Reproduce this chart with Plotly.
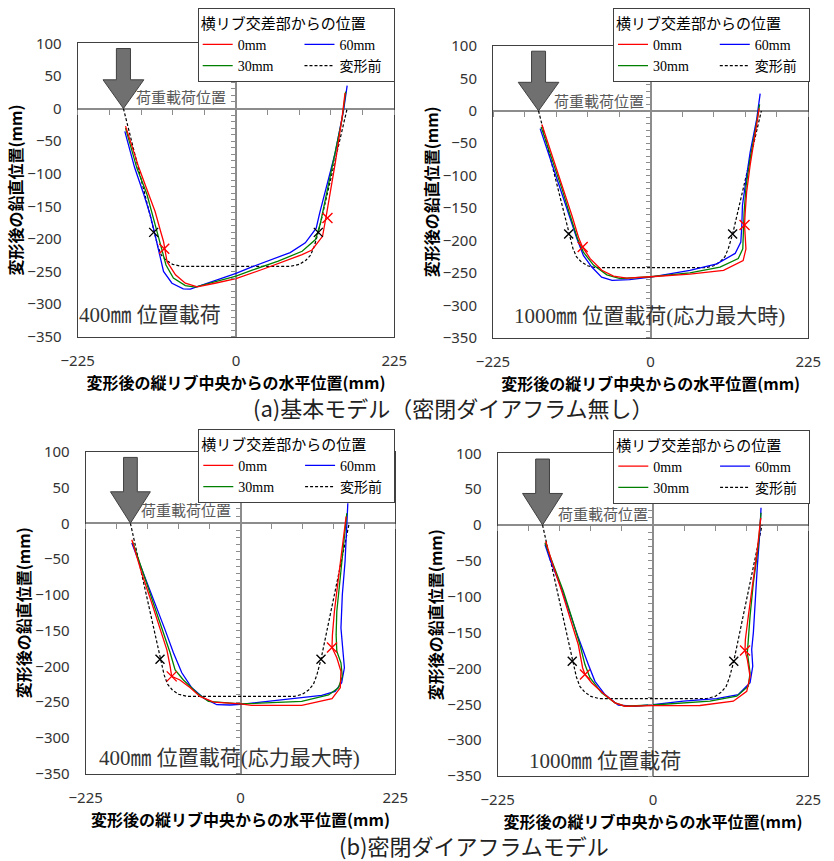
import plotly.graph_objects as go

W, H = 834, 861

# ---------------- data ----------------
SERIES_NAMES = ["0mm", "30mm", "60mm", "変形前"]
SERIES_COLORS = ["#ff0000", "#008000", "#0000ff", "#000000"]
X_TICKS = [-225, 0, 225]
Y_TICKS = list(range(-350, 101, 50))
LEGEND_TITLE = "横リブ交差部からの位置"
X_TITLE = "変形後の縦リブ中央からの水平位置(mm)"
Y_TITLE = "変形後の鉛直位置(mm)"
LOAD_TEXT = "荷重載荷位置"
PANEL_LABELS = ["400㎜ 位置載荷", "1000㎜ 位置載荷(応力最大時)",
                "400㎜ 位置載荷(応力最大時)", "1000㎜ 位置載荷"]
CAPTIONS = ["(a)基本モデル（密閉ダイアフラム無し）", "(b)密閉ダイアフラムモデル"]

# undeformed shape (common to all panels)
BEFORE_X = [-160, -117, -111, -106, -99, -90, -78, 78, 90, 99, 106, 111, 117, 158]
BEFORE_Y = [0, -190, -212, -225, -233, -239, -242, -242, -239, -233, -225, -212, -190, 0]
BEFORE_MARK_X = [-117, 117]
BEFORE_MARK_Y = [-190, -190]
LOAD_X, LOAD_Y = -160, 0

# panel (a) 400mm
A400_0_X = [-157, -138, -124, -115, -107, -103, -98, -86, -72, -55, -30, 0, 42, 94, 108, 123, 129, 135, 141, 151, 155]
A400_0_Y = [-27, -91, -132, -158, -189, -204, -235, -255, -268, -273.5, -268, -261, -245, -224, -217, -196, -160, -125, -84, -12, 24]
A400_30_X = [-157, -141, -126.5, -118.5, -111.5, -105, -99.5, -89, -72, -58, -30, 0, 23, 60, 94, 113, 120, 127, 136, 150.6, 156]
A400_30_Y = [-30, -91, -132, -163, -194, -219, -240, -260, -271.5, -274, -266, -257, -248, -234, -219, -201, -176, -140, -94, -17, 26]
A400_60_X = [-158, -144, -131, -122, -115, -109, -103, -91, -75, -65, -40, -15, 0, 20, 46, 77, 98.5, 114, 119, 127, 141, 153, 158]
A400_60_Y = [-35, -91, -132, -163, -194, -224, -250, -268, -276.5, -277, -268, -259, -253, -244, -233, -221, -206, -183.5, -160, -125, -68, -2, 35]
A400_MARK_X = [-102, 130]
A400_MARK_Y = [-215, -168]

# panel (a) 1000mm
A1000_0_X = [-155.3, -138.7, -124.4, -112.5, -103, -97.3, -86.3, -69.7, -53, -34, 0, 56, 104, 132, 136, 135, 134, 135, 137, 142, 150.6, 155]
A1000_0_Y = [-21, -74, -120, -161, -195, -210, -228, -246, -255, -258, -256, -252, -246, -231, -213, -192, -176, -156, -125, -84, -27.5, 4]
A1000_30_X = [-156.3, -141, -126.7, -115, -104.5, -96, -81.6, -62.5, -43.5, 0, 56, 99, 125, 131.5, 132.4, 133.4, 136.3, 142, 150.6, 155.5]
A1000_30_Y = [-25, -74, -120, -161, -197, -218, -238, -253, -259, -256, -250, -241, -228, -213, -187, -156, -115, -74, -22, 10]
A1000_60_X = [-157.7, -143.4, -129.2, -117.3, -105.3, -96, -84, -70, -55, -30, 0, 56, 94.5, 120.6, 128.7, 130.1, 131, 135, 142, 151.5, 156.3]
A1000_60_Y = [-27.5, -74, -120, -161, -197, -223, -241, -256.5, -261.5, -260.5, -256.5, -246, -236, -220, -202.5, -177, -146, -115, -64, -12, 26.5]
A1000_MARK_X = [-97, 134]
A1000_MARK_Y = [-210, -176]

# panel (b) 400mm
B400_0_X = [-158, -143.5, -129, -117, -107, -102.3, -100, -88, -73, -59, -39, 0, 16, 89, 133, 145, 146, 140, 133, 133.6, 136.5, 142.3, 148, 153.5]
B400_0_Y = [-23, -70, -111.5, -149, -177, -200, -214, -219, -230, -242, -250, -252.5, -254.5, -254.5, -245, -230, -207, -188, -173.5, -156, -123, -77, -30, 9.5]
B400_30_X = [-157, -141, -126.6, -113.5, -102.3, -95, -83, -63.5, -46.7, 0, 89, 128, 142.3, 148, 146, 140, 139, 140, 144.8, 149.6, 154.5]
B400_30_Y = [-25.4, -70, -111.5, -149, -181, -205, -219, -237, -249, -252.5, -249, -240, -230, -214, -195, -179, -156, -123, -77, -30, 14]
B400_60_X = [-158, -141, -124, -109.6, -97.5, -85.3, -70.8, -54, -34.4, -15, 0, 65, 118, 137.5, 147, 151, 148, 146, 148, 152, 154.5, 156]
B400_60_Y = [-27.7, -70, -111.5, -149, -181, -209, -230, -244, -253.6, -254, -253, -246.6, -240.6, -235, -223, -202, -174, -146.5, -100, -53, -2, 28]
B400_MARK_X = [-100, 133]
B400_MARK_Y = [-214, -173.5]

# panel (b) 1000mm
B1000_0_X = [-155.5, -146.8, -132.3, -120.3, -108.2, -102, -98.6, -89, -72, -55, -40.6, 0, 68, 116.4, 135.8, 140.6, 136.7, 133.3, 133.8, 138.1, 144.5, 151.2, 156.1]
B1000_0_Y = [-22.6, -50.5, -92, -129, -167, -199, -208.5, -220, -235, -248, -252.7, -252, -251.7, -245.7, -232, -211, -187.6, -175, -160, -127, -85, -34, 10]
B1000_30_X = [-156.5, -146.8, -130, -117.8, -105.8, -98.6, -91.3, -74.4, -55, -40.6, 0, 82.6, 121.3, 138.1, 140.6, 136.7, 137.7, 140.6, 145.4, 152.6, 156.5]
B1000_30_Y = [-24.8, -50.5, -92, -129, -167, -194.6, -213, -234, -248, -252.7, -251, -245.7, -238.8, -224.8, -206, -178, -160, -127, -80.6, -29.6, 17]
B1000_60_X = [-156.5, -149.3, -134.8, -120.3, -108.2, -93.7, -84.1, -69.6, -50.3, -26, 0, 44, 92.3, 123.7, 140.6, 144.5, 143, 145.4, 147.8, 151.2, 155.1, 156.5]
B1000_60_Y = [-27.2, -48, -83, -125, -157, -194.6, -218, -236.4, -251.3, -252.7, -250.5, -245.7, -242, -236.4, -220, -197, -173.6, -150, -104, -57, -6, 24]
B1000_MARK_X = [-98.6, 133.3]
B1000_MARK_Y = [-208.5, -175]

PANELS = [
    ([A400_0_X, A400_30_X, A400_60_X], [A400_0_Y, A400_30_Y, A400_60_Y], A400_MARK_X, A400_MARK_Y),
    ([A1000_0_X, A1000_30_X, A1000_60_X], [A1000_0_Y, A1000_30_Y, A1000_60_Y], A1000_MARK_X, A1000_MARK_Y),
    ([B400_0_X, B400_30_X, B400_60_X], [B400_0_Y, B400_30_Y, B400_60_Y], B400_MARK_X, B400_MARK_Y),
    ([B1000_0_X, B1000_30_X, B1000_60_X], [B1000_0_Y, B1000_30_Y, B1000_60_Y], B1000_MARK_X, B1000_MARK_Y),
]

# ---------------- layout (pixels) ----------------
PANEL_PX = [(77.7, 394.3, 43.3, 336.7), (493, 808.3, 46, 337.7),
            (85.7, 395.3, 451.7, 773.7), (497.7, 808.3, 453.3, 776)]
LEGEND_PX = [(197.7, 8.3), (613, 8.3), (198.3, 429.3), (613.3, 430)]
LABEL_POS = [(-122, -316), (-1, -316), (-16, -328), (-70, -329)]
LOAD_TEXT_POS = [(-78.5, 18), (-74, 16), (-79, 19), (-72, 15.6)]
CAPTION_PX = [(453.7, 406.5), (473.7, 845)]
X_RANGE = [-225, 225]
Y_RANGE = [-350, 100]
COL_PAD = "\u2002" * 3   # widens the first legend column
COL_PAD2 = "\u2002"      # widens the second legend column

SANS = "Noto Sans, Noto Sans CJK JP"
SERIF = "Liberation Serif, Noto Sans CJK JP"
CJK = "Noto Sans CJK JP"

fig = go.Figure()
layout = dict(
    width=W, height=H, margin=dict(l=0, r=0, t=0, b=0, autoexpand=False),
    paper_bgcolor="white", plot_bgcolor="white", showlegend=True,
)
annotations = []
shapes = []

for i, (xs, ys, mx, my) in enumerate(PANELS):
    n = i + 1
    on = n + 4
    xa = "x" if n == 1 else f"x{n}"
    ya = "y" if n == 1 else f"y{n}"
    lg = "legend" if n == 1 else f"legend{n}"
    x0p, x1p, y0p, y1p = PANEL_PX[i]
    xdom = [x0p / W, x1p / W]
    ydom = [1 - y1p / H, 1 - y0p / H]

    # before deformation
    fig.add_trace(go.Scatter(x=BEFORE_X, y=BEFORE_Y, mode="lines", name=SERIES_NAMES[3] + COL_PAD2,
                             line=dict(color="black", width=1.2, dash="3px,2px"),
                             xaxis=xa, yaxis=ya, legend=lg, legendgroup=f"g{n}b", legendrank=4,
                             hoverinfo="skip"))
    # deformed, draw blue, green, red
    for k in [2, 1, 0]:
        nm = SERIES_NAMES[k] + (COL_PAD if k in (0, 1) else COL_PAD2)
        fig.add_trace(go.Scatter(x=xs[k], y=ys[k], mode="lines", name=nm,
                                 line=dict(color=SERIES_COLORS[k], width=1.3),
                                 xaxis=xa, yaxis=ya, legend=lg,
                                 legendgroup=(f"g{n}a" if k in (0, 1) else f"g{n}b"),
                                 legendrank=[1, 2, 3][k], hoverinfo="skip"))
    fig.add_trace(go.Scatter(x=BEFORE_MARK_X, y=BEFORE_MARK_Y, mode="markers", showlegend=False,
                             marker=dict(symbol="x-thin", size=9, line=dict(color="black", width=1.4)),
                             xaxis=xa, yaxis=ya, hoverinfo="skip"))
    fig.add_trace(go.Scatter(x=mx, y=my, mode="markers", showlegend=False,
                             marker=dict(symbol="x-thin", size=10, line=dict(color="#ff0000", width=1.4)),
                             xaxis=xa, yaxis=ya, hoverinfo="skip"))
    # dummy traces for overlay tick axes on zero lines
    fig.add_trace(go.Scatter(x=[None], y=[None], showlegend=False, xaxis=f"x{on}", yaxis=ya, hoverinfo="skip"))
    fig.add_trace(go.Scatter(x=[None], y=[None], showlegend=False, xaxis=xa, yaxis=f"y{on}", hoverinfo="skip"))

    xkey = "xaxis" if n == 1 else f"xaxis{n}"
    ykey = "yaxis" if n == 1 else f"yaxis{n}"
    layout[xkey] = dict(
        domain=xdom, anchor=ya, range=X_RANGE, tickvals=X_TICKS, ticks="", showgrid=False,
        showline=True, mirror=True, linecolor="#404040", linewidth=1,
        zeroline=True, zerolinecolor="#8c8c8c", zerolinewidth=2,
        tickfont=dict(family=SANS, size=15, color="#333333"), ticklabelstandoff=10,
        title=dict(text=f"<b>{X_TITLE}</b>", font=dict(family=CJK, size=16, color="black"), standoff=0),
        fixedrange=True,
    )
    layout[ykey] = dict(
        domain=ydom, anchor=xa, range=Y_RANGE, tickvals=Y_TICKS, ticks="", showgrid=False,
        showline=True, mirror=True, linecolor="#404040", linewidth=1,
        zeroline=True, zerolinecolor="#8c8c8c", zerolinewidth=2,
        tickfont=dict(family=SANS, size=15, color="#333333"), ticklabelstandoff=12,
        title=dict(text=f"<b>{Y_TITLE}</b>", font=dict(family=CJK, size=16, color="black"), standoff=0),
        fixedrange=True,
    )
    # overlay axes providing minor ticks along the zero lines
    zero_y_frac = ydom[0] + (0 - Y_RANGE[0]) / (Y_RANGE[1] - Y_RANGE[0]) * (ydom[1] - ydom[0])
    zero_x_frac = xdom[0] + (0 - X_RANGE[0]) / (X_RANGE[1] - X_RANGE[0]) * (xdom[1] - xdom[0])
    layout[f"xaxis{on}"] = dict(
        domain=xdom, overlaying=xa, anchor="free", position=zero_y_frac, side="bottom",
        range=X_RANGE, tick0=0, dtick=45, ticks="outside", ticklen=5, tickwidth=1,
        tickcolor="#8c8c8c", showticklabels=False, showline=False, zeroline=False,
        showgrid=False, fixedrange=True,
    )
    layout[f"yaxis{on}"] = dict(
        domain=ydom, overlaying=ya, anchor="free", position=zero_x_frac, side="left",
        range=Y_RANGE, tick0=0, dtick=10, ticks="outside", ticklen=5, tickwidth=1,
        tickcolor="#8c8c8c", showticklabels=False, showline=False, zeroline=False,
        showgrid=False, fixedrange=True,
    )

    lx, ly = LEGEND_PX[i]
    layout[lg] = dict(
        x=lx / W, y=1 - ly / H, xanchor="left", yanchor="top", orientation="h",
        traceorder="grouped", bgcolor="white", bordercolor="#404040", borderwidth=1,
        font=dict(family=SERIF, size=14, color="black"), tracegroupgap=0,
        title=dict(text=LEGEND_TITLE, side="top", font=dict(family=CJK, size=15, color="black")),
    )

    # load arrow (drawn relative to load position)
    shaft, head, head_h, top = 10, 29, 44, 92
    path = (f"M {LOAD_X - shaft},{LOAD_Y + top} L {LOAD_X + shaft},{LOAD_Y + top} "
            f"L {LOAD_X + shaft},{LOAD_Y + head_h} L {LOAD_X + head},{LOAD_Y + head_h} "
            f"L {LOAD_X},{LOAD_Y} L {LOAD_X - head},{LOAD_Y + head_h} "
            f"L {LOAD_X - shaft},{LOAD_Y + head_h} Z")
    shapes.append(dict(type="path", path=path, xref=xa, yref=ya, fillcolor="#707070",
                       line=dict(color="#404040", width=1), layer="above"))

    tx, ty = LOAD_TEXT_POS[i]
    annotations.append(dict(x=tx, y=ty, xref=xa, yref=ya, text=LOAD_TEXT, showarrow=False,
                            font=dict(family=CJK, size=15, color="#595959")))
    lx2, ly2 = LABEL_POS[i]
    annotations.append(dict(x=lx2, y=ly2, xref=xa, yref=ya, text=PANEL_LABELS[i], showarrow=False,
                            font=dict(family=SERIF, size=21, color="#333333")))

for (cx, cy), cap in zip(CAPTION_PX, CAPTIONS):
    annotations.append(dict(x=cx / W, y=1 - cy / H, xref="paper", yref="paper", text=cap,
                            showarrow=False, xanchor="center", yanchor="middle",
                            font=dict(family=CJK, size=22, color="#222222")))

layout["annotations"] = annotations
layout["shapes"] = shapes
fig.update_layout(**layout)
fig.write_html("out.html")
